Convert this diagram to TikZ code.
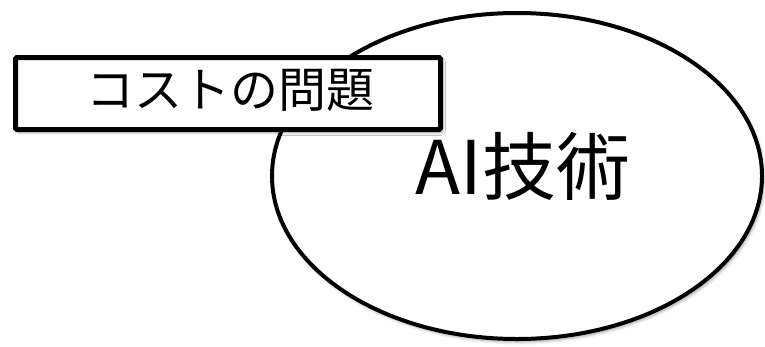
\documentclass[tikz,border=0pt]{standalone}
\usepackage{fontspec}
\newfontfamily\jp{Noto Sans CJK JP}
\usetikzlibrary{shadows.blur,shapes.geometric}
\tikzset{
  dropshade/.style={blur shadow={shadow xshift=2pt, shadow yshift=-3pt, shadow blur radius=3pt, shadow opacity=35}},
  bigoval/.style={ellipse, draw=black, line width=4pt, fill=white, minimum width=490pt, minimum height=326pt, inner sep=0pt, dropshade},
  tagbox/.style={rectangle, rounded corners=1.5pt, draw=black, line width=5pt, fill=white, minimum width=425pt, minimum height=72pt, inner sep=0pt, dropshade},
  bigtext/.style={font=\jp\fontsize{74}{80}\selectfont, inner sep=0pt},
  tagtext/.style={font=\jp\fontsize{48}{52}\selectfont, inner sep=0pt}
}
\begin{document}
\begin{tikzpicture}[x=1pt,y=-1pt]
\useasboundingbox (0,0) rectangle (765,346);
\node[bigoval] (oval) at (517,176) {};
\node[bigtext] (ai) at (523,166) {AI技術};
\node[tagbox] (box) at (228,93.5) {};
\node[tagtext] (cost) at (230,90) {コストの問題};
\end{tikzpicture}
\end{document}
